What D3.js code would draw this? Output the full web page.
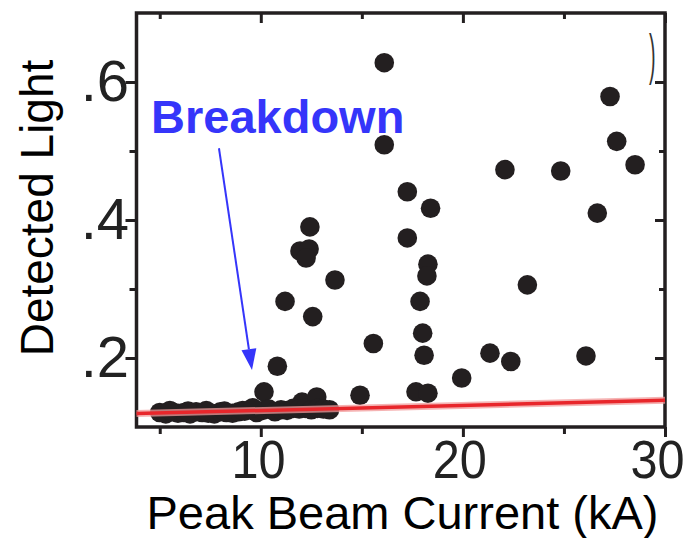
<!DOCTYPE html>
<html><head><meta charset="utf-8">
<script src="https://cdn.jsdelivr.net/npm/d3@7"></script>
<style>body{margin:0;background:#fff;} svg{display:block;}</style>
</head><body>
<svg id="chart" width="683" height="538"></svg>
<script>
// ---- data ----
const currentKA = [16.11,16.11,17.25,18.40,17.25,18.27,18.22,17.88,18.01,18.08,15.57,
  12.43,11.94,12.39,12.24,13.67,11.20,12.57,10.82,
  27.28,27.61,28.52,22.08,24.84,26.65,23.19,21.34,22.37,19.94,26.09,
  10.16,12.04,12.77,14.91,17.68,18.27];
const detectedLight = [0.628,0.509,0.441,0.417,0.374,0.336,0.319,0.282,0.236,0.204,0.221,
  0.390,0.355,0.358,0.345,0.313,0.282,0.260,0.188,
  0.579,0.514,0.480,0.473,0.471,0.410,0.306,0.207,0.195,0.171,0.203,
  0.151,0.136,0.1435,0.146,0.151,0.149];
const bandKA = [5.0,5.3,5.6,5.9,6.2,6.5,6.8,7.1,7.4,7.7,8.0,8.3,8.6,8.9,9.2,9.5,9.8,10.1,10.4,10.7,11.0,11.3,11.6,11.9,12.2,12.5,12.8,13.1,13.4,
  5.5,6.4,7.3,8.2,9.1,9.6];
const bandLight = [0.121,0.119,0.122,0.120,0.121,0.119,0.122,0.121,0.120,0.119,0.122,0.121,0.120,0.122,0.123,0.125,0.121,0.124,0.126,0.122,0.125,0.124,0.127,0.126,0.127,0.125,0.127,0.126,0.125,
  0.124,0.123,0.124,0.123,0.124,0.128];
const fitKA = [3.85, 30];
const fitLight = [0.1194, 0.1387];
const xMajorTicks = [10, 20, 30];
const xMinorTicks = [5, 15, 25];
const xTickLabels = ["10", "20", "30"];
const yMajorTicks = [0.2, 0.4, 0.6];
const yMinorTicks = [0.3, 0.5];
const yTickLabels = [".2", ".4", ".6"];
const annotationText = "Breakdown";
const annotationAt = [4.57, 0.526];
const arrowFrom = [7.93, 0.504];
const arrowTo = [9.565, 0.1826];
const xTitle = "Peak Beam Current (kA)";
const yTitle = "Detected Light";

// ---- drawing ----
const svg = d3.select("#chart");
const FONT = "'Liberation Sans', Arial, Helvetica, sans-serif";
const INK = "#231f20";
const L = 136.5, R = 665, T = 13, B = 427;
const x = d3.scaleLinear().domain([3.85, 30]).range([L, R]);
const y = d3.scaleLinear().domain([0.1, 0.7]).range([B, T]);

function styleAxis(g) {
  g.select(".domain").remove();
  g.selectAll(".tick line").attr("stroke", INK).attr("stroke-width", 3);
}
// bottom major
const xb = svg.append("g").attr("transform", `translate(0,${B})`)
  .call(d3.axisBottom(x).tickValues(xMajorTicks).tickSize(10).tickPadding(3)
    .tickFormat((d, i) => xTickLabels[i]));
styleAxis(xb);
const xLabelShift = [-3, -4, -9];
xb.selectAll(".tick text").attr("font-family", FONT).attr("font-size", 54)
  .attr("fill", "#222").attr("dx", (d, i) => xLabelShift[i]).attr("transform", "scale(0.9,1)");
svg.append("g").attr("transform", `translate(0,${B})`)
  .call(d3.axisBottom(x).tickValues(xMinorTicks).tickSize(7).tickFormat(""))
  .call(styleAxis);
// top (inward)
svg.append("g").attr("transform", `translate(0,${T})`)
  .call(d3.axisTop(x).tickValues(xMajorTicks).tickSize(-10).tickFormat("")).call(styleAxis);
svg.append("g").attr("transform", `translate(0,${T})`)
  .call(d3.axisTop(x).tickValues(xMinorTicks).tickSize(-6).tickFormat("")).call(styleAxis);
// left major
const yl = svg.append("g").attr("transform", `translate(${L},0)`)
  .call(d3.axisLeft(y).tickValues(yMajorTicks).tickSize(11)
    .tickFormat((d, i) => yTickLabels[i]));
styleAxis(yl);
yl.selectAll(".tick text").attr("font-family", FONT).attr("font-size", 58)
  .attr("fill", "#222").attr("x", -7.5);
svg.append("g").attr("transform", `translate(${L},0)`)
  .call(d3.axisLeft(y).tickValues(yMinorTicks).tickSize(7).tickFormat("")).call(styleAxis);
// right (inward)
svg.append("g").attr("transform", `translate(${R},0)`)
  .call(d3.axisRight(y).tickValues(yMajorTicks).tickSize(-10).tickFormat("")).call(styleAxis);
svg.append("g").attr("transform", `translate(${R},0)`)
  .call(d3.axisRight(y).tickValues(yMinorTicks).tickSize(-6).tickFormat("")).call(styleAxis);

// frame
svg.append("rect").attr("x", L).attr("y", T).attr("width", R - L).attr("height", B - T)
  .attr("fill", "none").attr("stroke", INK).attr("stroke-width", 3.5);

// points
const pts = currentKA.map((v, i) => [v, detectedLight[i]])
  .concat(bandKA.map((v, i) => [v, bandLight[i]]));
svg.append("g").selectAll("circle").data(pts).join("circle")
  .attr("cx", d => x(d[0])).attr("cy", d => y(d[1])).attr("r", 9.8)
  .attr("fill", INK);

// fit line
const fit = fitKA.map((v, i) => [v, fitLight[i]]);
const line = d3.line().x(d => x(d[0])).y(d => y(d[1]));
svg.append("path").attr("d", line(fit)).attr("stroke", "#f29a9a")
  .attr("stroke-width", 7).attr("fill", "none").attr("opacity", 0.75);
svg.append("path").attr("d", line(fit)).attr("stroke", "#e8262b")
  .attr("stroke-width", 3.5).attr("fill", "none");

// annotation
const BLUE = "#3535fa";
svg.append("text").attr("x", x(annotationAt[0])).attr("y", y(annotationAt[1]))
  .attr("font-family", FONT).attr("font-weight", "bold").attr("font-size", 47)
  .attr("fill", BLUE).text(annotationText);
const ax0 = x(arrowFrom[0]), ay0 = y(arrowFrom[1]), ax1 = x(arrowTo[0]), ay1 = y(arrowTo[1]);
const ang = Math.atan2(ay1 - ay0, ax1 - ax0);
const hl = 21, hw = 7.5;
const bx = ax1 - hl * Math.cos(ang), by = ay1 - hl * Math.sin(ang);
svg.append("line").attr("x1", ax0).attr("y1", ay0).attr("x2", bx).attr("y2", by)
  .attr("stroke", BLUE).attr("stroke-width", 2);
svg.append("path").attr("d", `M${ax1},${ay1}L${bx - hw * Math.sin(ang)},${by + hw * Math.cos(ang)}L${bx + hw * Math.sin(ang)},${by - hw * Math.cos(ang)}Z`)
  .attr("fill", BLUE);

// stray mark at top right
svg.append("text").attr("transform", "translate(649,73) scale(0.35,1)")
  .attr("font-family", FONT).attr("font-size", 56).attr("fill", "#333").text(")");

// titles
svg.append("text").attr("x", 402.5).attr("y", 529).attr("text-anchor", "middle")
  .attr("font-family", FONT).attr("font-size", 47).attr("fill", "#000").text(xTitle);
svg.append("text").attr("transform", "translate(53,208) rotate(-90)")
  .attr("text-anchor", "middle").attr("font-family", FONT).attr("font-size", 46)
  .attr("fill", "#000").text(yTitle);
</script>
</body></html>
